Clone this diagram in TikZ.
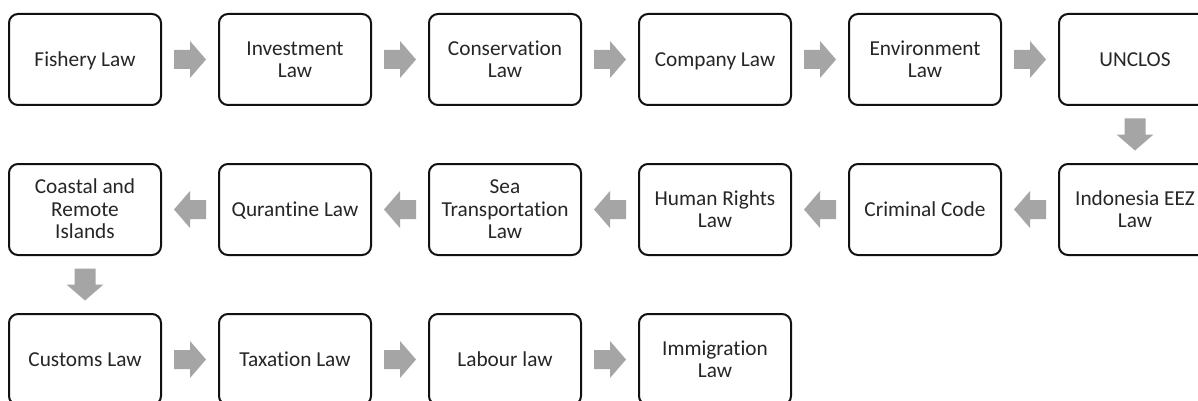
\documentclass[tikz,border=0pt]{standalone}
\usepackage{fontspec}
\setmainfont{Carlito}[Ligatures=NoCommon]
\usetikzlibrary{calc}
\definecolor{boxline}{HTML}{111111}
\definecolor{arrowfill}{HTML}{A5A5A5}
\definecolor{labeltext}{HTML}{262626}
\tikzset{
  law/.style={draw=boxline, line width=2pt, rounded corners=9pt,
    minimum width=152pt, minimum height=91pt, inner sep=0pt, align=center,
    font=\fontsize{21.3pt}{22.5pt}\selectfont, text=labeltext,
    text height=13.7pt, text depth=0pt},
  % multi-line labels sit on the baseline of their last line
  twolines/.style={text height=36.2pt},
  threelines/.style={text height=58.7pt},
  harrow/.pic={\fill[arrowfill] (-16,-9.5) -- (0,-9.5) -- (0,-18.5) -- (16,0)
    -- (0,18.5) -- (0,9.5) -- (-16,9.5) -- cycle;},
  varrow/.pic={\fill[arrowfill] (-16,-10.5) -- (0,-10.5) -- (0,-18.5) -- (16,0)
    -- (0,18.5) -- (0,10.5) -- (-16,10.5) -- cycle;},
}
\begin{document}
\begin{tikzpicture}[x=1pt,y=-1pt]
\useasboundingbox (0,0) rectangle (1198,401);
\clip (0,0) rectangle (1198,401);
\fill[white] (0,0) rectangle (1198,401);

% first row, left to right
\node[law] (fish)     at (85,59.5)   {Fishery Law};
\node[law,twolines] (invest)  at (295,59.5)  {Investment\\Law};
\node[law,twolines] (conserv) at (505,59.5)  {Conservation\\Law};
\node[law] (company)  at (715,59.5)  {Company Law};
\node[law,twolines] (environ) at (925,59.5)  {Environment\\Law};
\node[law] (unclos)   at (1135,59.5) {UNCLOS};

% second row, right to left
\node[law,twolines] (eez)     at (1135,209.5) {Indonesia EEZ\\Law};
\node[law] (criminal) at (925,209.5) {Criminal Code};
\node[law,twolines] (human)   at (715,209.5) {Human Rights\\Law};
\node[law,threelines] (sea)   at (505,209.5) {Sea\\Transportation\\Law};
\node[law] (quarantine) at (295,209.5) {Qurantine Law};
\node[law,threelines] (coastal) at (85,209.5) {Coastal and\\Remote\\Islands};

% third row, left to right
\node[law] (customs)  at (85,359.5)  {Customs Law};
\node[law] (taxation) at (295,359.5) {Taxation Law};
\node[law] (labour)   at (505,359.5) {Labour law};
\node[law,twolines] (immig) at (715,359.5) {Immigration\\Law};

% block arrows between consecutive boxes
\foreach \a/\b/\r/\k in {fish/invest/0/h, invest/conserv/0/h, conserv/company/0/h,
    company/environ/0/h, environ/unclos/0/h, unclos/eez/-90/v,
    eez/criminal/180/h, criminal/human/180/h, human/sea/180/h,
    sea/quarantine/180/h, quarantine/coastal/180/h, coastal/customs/-90/v,
    customs/taxation/0/h, taxation/labour/0/h, labour/immig/0/h}{
  \path (\a) -- (\b) coordinate[midway] (mid-\a);
  \pic[rotate=\r] at (mid-\a) {\k arrow};
}
\end{tikzpicture}
\end{document}
